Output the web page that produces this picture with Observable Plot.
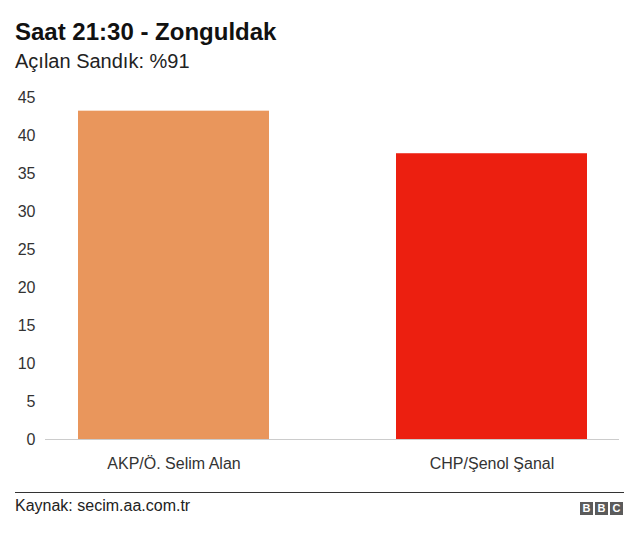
<!DOCTYPE html>
<html>
<head>
<meta charset="utf-8">
<script src="https://cdn.jsdelivr.net/npm/d3@7"></script>
<script src="https://cdn.jsdelivr.net/npm/@observablehq/plot@0.6"></script>
<style>
  html, body { margin: 0; padding: 0; background: #fff; }
  #wrap { position: relative; width: 640px; height: 537px; overflow: hidden; font-family: "Liberation Sans", Arial, sans-serif; }
  #wrap svg { position: absolute; left: 0; top: 0; }
  .abs { position: absolute; line-height: 1; white-space: nowrap; }
  #title { left: 15px; top: 20px; font-size: 24px; font-weight: bold; color: #111; }
  #subtitle { left: 15px; top: 51px; font-size: 20px; color: #222; }
  #rule { left: 15px; top: 492px; width: 609px; height: 1px; background: #333; }
  #source { left: 15px; top: 498px; font-size: 16px; color: #222; }
  .bbc { position: absolute; top: 502px; width: 13px; height: 13px; background: #5b5b5b; color: #fff; font-weight: bold; font-size: 11px; line-height: 13px; text-align: center; }
</style>
</head>
<body>
<div id="wrap">
  <div id="title" class="abs"></div>
  <div id="subtitle" class="abs"></div>
  <div id="rule" class="abs"></div>
  <div id="source" class="abs"></div>
</div>
<script>
const titleText = "Saat 21:30 - Zonguldak";
const subtitleText = "Açılan Sandık: %91";
const sourceText = "Kaynak: secim.aa.com.tr";
const candidates = ["AKP/Ö. Selim Alan", "CHP/Şenol Şanal"];
const votes = [43.2, 37.6];
const barColors = ["#E9965C", "#EC1F10"];
const yTicks = [0, 5, 10, 15, 20, 25, 30, 35, 40, 45];

const data = candidates.map((c, i) => ({candidate: c, value: votes[i]}));

const chart = Plot.plot({
  width: 640,
  height: 537,
  marginLeft: 45,
  marginRight: 21,
  marginTop: 97,
  marginBottom: 98,
  style: {fontFamily: "'Liberation Sans', Arial, sans-serif", fontSize: "16px", color: "#333", background: "transparent"},
  x: {domain: candidates, paddingInner: 0.4, paddingOuter: 0.1, label: null},
  y: {domain: [0, 45], label: null},
  color: {domain: candidates, range: barColors},
  marks: [
    Plot.axisY({ticks: yTicks, tickSize: 0, tickPadding: 10, fontSize: 16, label: null}),
    Plot.axisX({tickSize: 0, tickPadding: 18, fontSize: 16, label: null}),
    Plot.barY(data, {x: "candidate", y: "value", fill: "candidate"}),
    Plot.ruleY([0], {stroke: "#cccccc"})
  ]
});

const wrap = document.getElementById("wrap");
wrap.insertBefore(chart, wrap.firstChild);
document.getElementById("title").textContent = titleText;
document.getElementById("subtitle").textContent = subtitleText;
document.getElementById("source").textContent = sourceText;
["B", "B", "C"].forEach((l, i) => {
  const d = document.createElement("div");
  d.className = "bbc";
  d.style.left = (580 + i * 15) + "px";
  d.textContent = l;
  wrap.appendChild(d);
});
</script>
</body>
</html>
